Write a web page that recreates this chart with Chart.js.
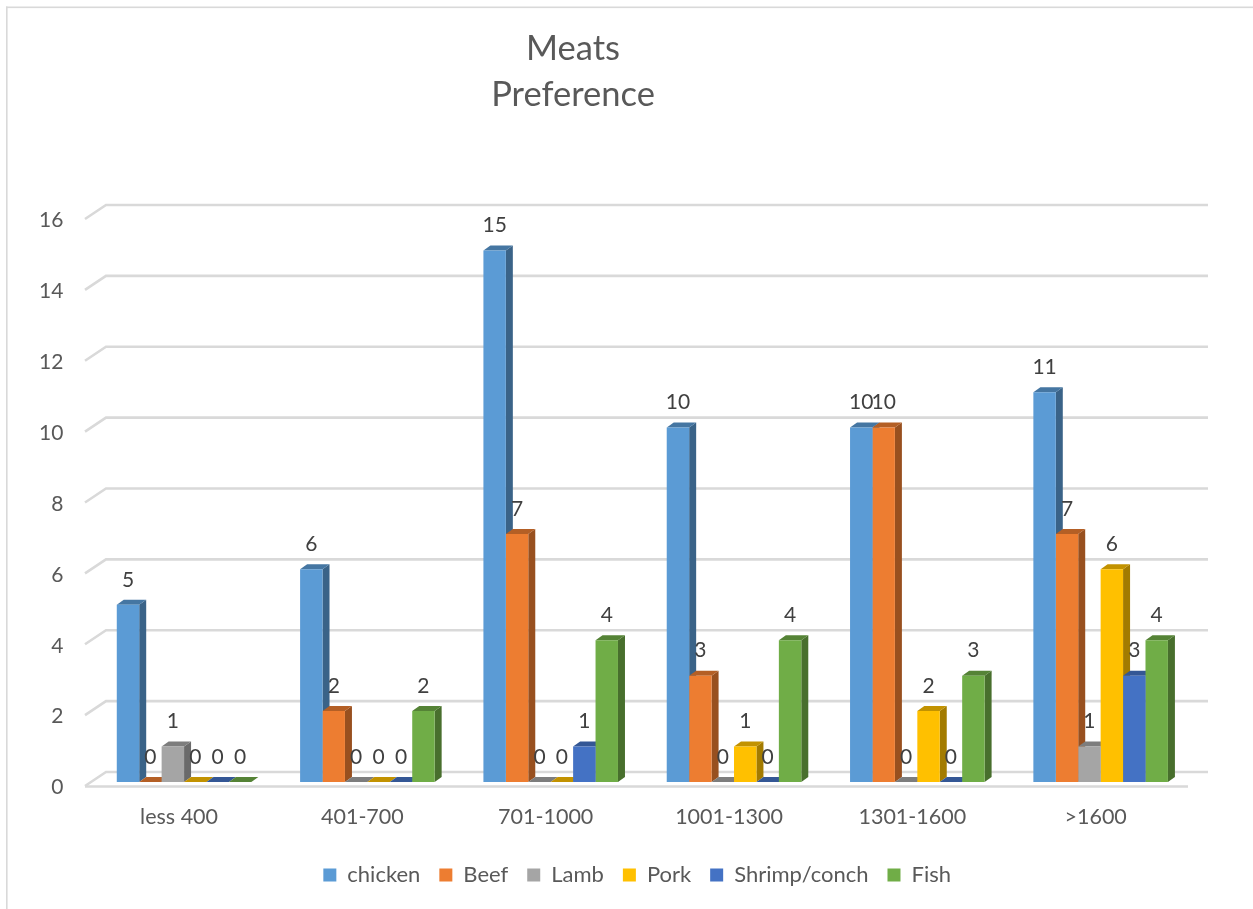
<!DOCTYPE html>
<html>
<head>
<meta charset="utf-8">
<title>Meats Preference</title>
<script src="https://cdn.jsdelivr.net/npm/chart.js@4"></script>
<style>
  html, body { margin: 0; padding: 0; background: #ffffff; }
  #wrap { position: absolute; left: 0; top: 0; width: 1253px; height: 909px; }
</style>
</head>
<body>
<div id="wrap"><canvas id="chart" width="1253" height="909"></canvas></div>
<script>
const categories = ['less 400', '401-700', '701-1000', '1001-1300', '1301-1600', '>1600'];
const chicken = [5, 6, 15, 10, 10, 11];
const beef    = [0, 2, 7, 3, 10, 7];
const lamb    = [1, 0, 0, 0, 0, 1];
const pork    = [0, 0, 0, 1, 2, 6];
const shrimp  = [0, 0, 1, 0, 0, 3];
const fish    = [0, 2, 4, 4, 3, 4];

const FONT = 'Lato, Carlito, Calibri, sans-serif';
const GRID = '#d9d9d9';

function shade(hex, k) {
  const n = parseInt(hex.slice(1), 16);
  const c = [n >> 16, (n >> 8) & 255, n & 255].map(v => Math.round(v * k));
  return `rgb(${c[0]},${c[1]},${c[2]})`;
}

function series(label, data, color) {
  return { label, data, backgroundColor: color, borderWidth: 0 };
}

// Thin frame along the top and left edges of the chart object.
const framePlugin = {
  id: 'frame',
  beforeDraw(chart) {
    const { ctx } = chart;
    ctx.save();
    ctx.fillStyle = GRID;
    ctx.fillRect(6, 6.5, chart.width - 6, 1.6);
    ctx.fillRect(6, 6.5, 1.6, chart.height - 6.5);
    ctx.restore();
  }
};

// Back wall, side wall and floor of the 3-D box around the plot.
const wallsPlugin = {
  id: 'walls',
  beforeDatasetsDraw(chart) {
    const { ctx } = chart;
    const y = chart.scales.y;
    const x0 = 85, x1 = 106, xEnd = 1208;
    ctx.save();
    ctx.strokeStyle = GRID;
    ctx.lineWidth = 2.6;
    y.ticks.forEach(t => {
      const py = y.getPixelForValue(t.value) - 10;
      ctx.beginPath();
      ctx.moveTo(x0, py + 14);
      ctx.lineTo(x1, py);
      ctx.lineTo(xEnd, py);
      ctx.stroke();
    });
    // front edge of the floor
    const base = y.getPixelForValue(0) + 4.5;
    ctx.beginPath();
    ctx.moveTo(x0, base);
    ctx.lineTo(xEnd - 20, base);
    ctx.stroke();
    ctx.restore();

    // Extruded side and top faces, left to right so each overlaps its left neighbour.
    const dx = 7, dy = 5;
    const n = chart.data.labels.length;
    for (let i = 0; i < n; i++) {
      chart.data.datasets.forEach((ds, d) => {
        const el = chart.getDatasetMeta(d).data[i];
        const half = el.width / 2;
        const l = el.x - half, r = el.x + half, top = el.y, bot = el.base;
        ctx.fillStyle = shade(ds.backgroundColor, 0.64);
        ctx.beginPath();
        ctx.moveTo(r, top); ctx.lineTo(r + dx, top - dy);
        ctx.lineTo(r + dx, bot - dy); ctx.lineTo(r, bot);
        ctx.closePath(); ctx.fill();
        ctx.fillStyle = shade(ds.backgroundColor, 0.76);
        ctx.beginPath();
        ctx.moveTo(l, top); ctx.lineTo(l + dx, top - dy);
        ctx.lineTo(r + dx, top - dy); ctx.lineTo(r, top);
        ctx.closePath(); ctx.fill();
      });
    }
  }
};

// Value printed above every bar, also for the zero bars.
const valuesPlugin = {
  id: 'values',
  afterDatasetsDraw(chart) {
    const { ctx } = chart;
    ctx.save();
    ctx.font = `21px ${FONT}`;
    ctx.fillStyle = '#404040';
    ctx.textAlign = 'center';
    ctx.textBaseline = 'middle';
    chart.data.datasets.forEach((ds, d) => {
      chart.getDatasetMeta(d).data.forEach((el, i) => {
        ctx.fillText(String(ds.data[i]), el.x, el.y - 25);
      });
    });
    ctx.restore();
  }
};

// Shifts the title and legend boxes to their place over the plot.
const placementPlugin = {
  id: 'placement',
  afterLayout(chart) {
    chart.titleBlock.left = 573 - chart.width / 2;
    chart.titleBlock.right = 573 + chart.width / 2;
    chart.legend.left += 41;
    chart.legend.right += 41;
  }
};

new Chart(document.getElementById('chart'), {
  type: 'bar',
  data: {
    labels: categories,
    datasets: [
      series('chicken', chicken, '#5B9BD5'),
      series('Beef', beef, '#ED7D31'),
      series('Lamb', lamb, '#A5A5A5'),
      series('Pork', pork, '#FFC000'),
      series('Shrimp/conch', shrimp, '#4472C4'),
      series('Fish', fish, '#70AD47')
    ]
  },
  plugins: [framePlugin, wallsPlugin, valuesPlugin, placementPlugin],
  options: {
    responsive: false,
    animation: false,
    layout: { padding: { left: 0, right: 60.7, top: 0, bottom: 13 } },
    datasets: { bar: { categoryPercentage: 0.734, barPercentage: 1 } },
    plugins: {
      tooltip: { enabled: false },
      title: {
        display: true,
        text: ['Meats', 'Preference'],
        color: '#595959',
        font: { family: FONT, size: 34.5, weight: 'normal', lineHeight: 1.333 },
        padding: { top: 26, bottom: 97 }
      },
      legend: {
        position: 'bottom',
        labels: {
          boxWidth: 13,
          boxHeight: 13,
          padding: 19,
          color: '#595959',
          font: { family: FONT, size: 22 }
        }
      }
    },
    scales: {
      x: {
        afterFit(scale) { scale.height = 63; },
        grid: { display: false },
        border: { display: false },
        ticks: {
          color: '#595959',
          font: { family: FONT, size: 21.5 },
          labelOffset: -5,
          padding: 14.5,
          maxRotation: 0,
          autoSkip: false
        }
      },
      y: {
        min: 0,
        max: 16,
        afterFit(scale) { scale.width = 92.4; },
        grid: { display: false },
        border: { display: false },
        ticks: {
          stepSize: 2,
          color: '#595959',
          font: { family: FONT, size: 21 },
          labelOffset: 5.5,
          padding: 21
        }
      }
    }
  }
});
</script>
</body>
</html>
